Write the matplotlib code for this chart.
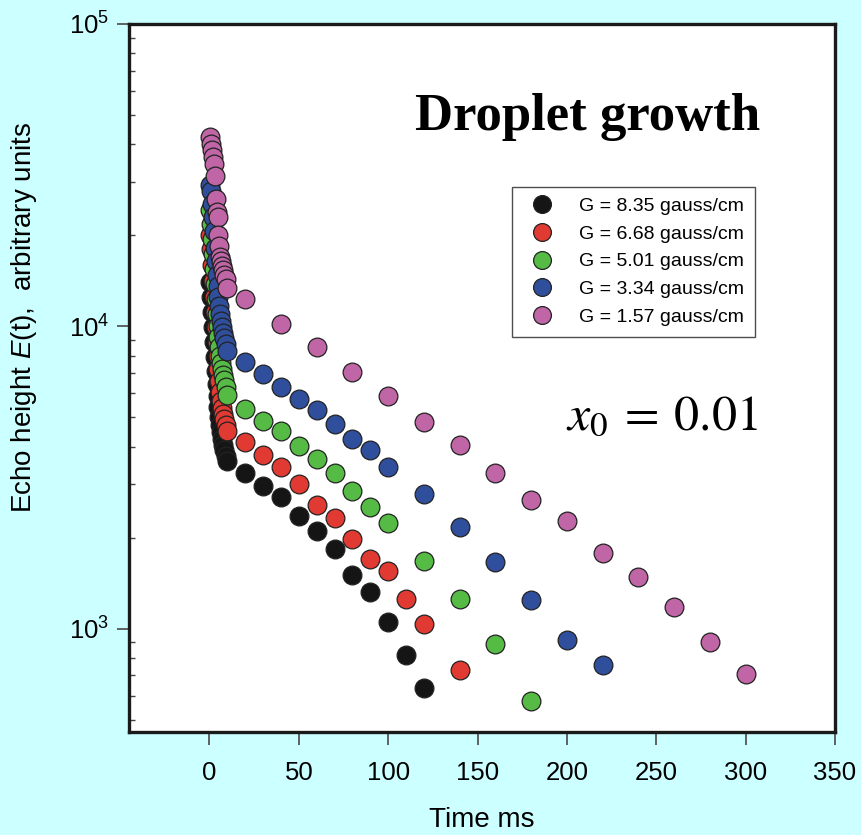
import numpy as np
import matplotlib
matplotlib.use('Agg')
import matplotlib.pyplot as plt

plt.rcParams['font.family'] = ['Liberation Sans', 'DejaVu Sans']
plt.rcParams['mathtext.fontset'] = 'custom'
plt.rcParams['mathtext.rm'] = 'Liberation Sans'
plt.rcParams['mathtext.it'] = 'Liberation Sans:italic'

# early times (ms), shared by all series
t_early = [0.5, 1, 1.5, 2, 2.5, 3, 3.5, 4, 4.5, 5, 5.5, 6, 6.5, 7, 7.5, 8, 9, 10]

labels = ['G = 8.35 gauss/cm', 'G = 6.68 gauss/cm', 'G = 5.01 gauss/cm',
          'G = 3.34 gauss/cm', 'G = 1.57 gauss/cm']
colors = ['#151515', '#e03a32', '#55bb45', '#2f4e9c', '#c065a6']

black_early = [13970, 12470, 11120, 9920, 8850, 7900, 7100, 6436, 5875, 5405,
               5007, 4715, 4466, 4240, 4046, 3900, 3725, 3582]
black_t = [20, 30, 40, 50, 60, 70, 80, 90, 100, 110, 120]
black_v = [3273, 2965, 2729, 2360, 2106, 1837, 1508, 1325, 1055, 820, 638]

red_early = [20100, 17950, 15900, 14080, 12470, 11120, 9920, 8850, 7960, 7210,
             6585, 6060, 5656, 5360, 5125, 4935, 4715, 4500]
red_t = [20, 30, 40, 50, 60, 70, 80, 90, 100, 110, 120, 140]
red_v = [4140, 3750, 3427, 3010, 2567, 2324, 1980, 1702, 1553, 1256, 1039, 727]

green_early = [24300, 21700, 19400, 17300, 15420, 13770, 12280, 10950, 10000, 9200,
               8525, 7960, 7550, 7210, 6890, 6630, 6290, 5920]
green_t = [20, 30, 40, 50, 60, 70, 80, 90, 100, 120, 140, 160, 180]
green_v = [5320, 4860, 4500, 4018, 3640, 3273, 2853, 2529, 2238, 1677, 1256, 892, 574]

blue_early = [29400, 27900, 25300, 22900, 20600, 18200, 16400, 14800, 13550, 12470,
              11640, 10950, 10390, 9920, 9480, 9130, 8720, 8270]
blue_t = [20, 30, 40, 50, 60, 70, 80, 90, 100, 120, 140, 160, 180, 200, 220]
blue_v = [7606, 6940, 6290, 5740, 5283, 4750, 4240, 3900, 3427, 2790, 2173, 1665,
          1247, 920, 760]

pink_early = [42100, 40200, 38400, 36400, 34300, 31300, 26300, 23800, 22900, 20100,
              18400, 17000, 16400, 15800, 15400, 14800, 14300, 13400]
pink_t = [20, 40, 60, 80, 100, 120, 140, 160, 180, 200, 220, 240, 260, 280, 300]
pink_v = [12280, 10150, 8525, 7050, 5875, 4820, 4046, 3273, 2666, 2272, 1782, 1485,
          1182, 906, 705]

series = [
    (black_early, black_t, black_v),
    (red_early, red_t, red_v),
    (green_early, green_t, green_v),
    (blue_early, blue_t, blue_v),
    (pink_early, pink_t, pink_v),
]

fig = plt.figure(figsize=(8.62, 8.35), dpi=100)
fig.patch.set_facecolor('#ccffff')
ax = fig.add_axes([0.1497, 0.1234, 0.819, 0.848])

for (early, tl, vl), c, lab in zip(series, colors, labels):
    t = list(t_early) + list(tl)
    v = list(early) + list(vl)
    ax.plot(t, v, 'o', ms=13.5, mfc=c, mec='#222222', mew=0.9, label=lab)

ax.set_yscale('log')
ax.set_xlim(-45, 349)
ax.set_ylim(455, 1e5)
ax.set_xticks([0, 50, 100, 150, 200, 250, 300, 350])

for s in ax.spines.values():
    s.set_linewidth(2.4)
    s.set_color('#1a1a1a')

ax.tick_params(axis='x', which='major', direction='out', length=9, width=1.3,
               color='#555555', labelsize=18.5, pad=12, top=False)
ax.tick_params(axis='y', which='major', direction='out', length=9, width=1.3,
               color='#555555', labelsize=18.5, pad=5, right=False)
ax.tick_params(axis='y', which='minor', direction='in', length=4.5, width=1.0,
               color='#444444', right=False, labelleft=False)
ax.tick_params(axis='x', which='minor', bottom=False, top=False)

ax.set_xlabel('Time ms', fontsize=20, labelpad=16)
ax.set_ylabel('Echo height $E$(t),  arbitrary units', fontsize=20)
ax.yaxis.set_label_coords(-0.128, 0.585)

ax.text(0.65, 0.868, 'Droplet growth', transform=ax.transAxes, ha='center',
        va='center', fontsize=38, fontweight='bold', family='Liberation Serif')
ax.text(0.755, 0.445, '$x_0\\:=\\:0.01$', transform=ax.transAxes, ha='center',
        va='center', fontsize=36, math_fontfamily='stix')

leg = ax.legend(loc='upper left', bbox_to_anchor=(0.5425, 0.770), borderaxespad=0,
                fontsize=14, frameon=True, fancybox=False, handletextpad=0.9,
                labelspacing=0.52, borderpad=0.55, markerscale=0.95, handlelength=2.0)
leg.get_frame().set_edgecolor('#222222')
leg.get_frame().set_linewidth(1.0)

fig.savefig('out.png', dpi=100, facecolor=fig.get_facecolor())
